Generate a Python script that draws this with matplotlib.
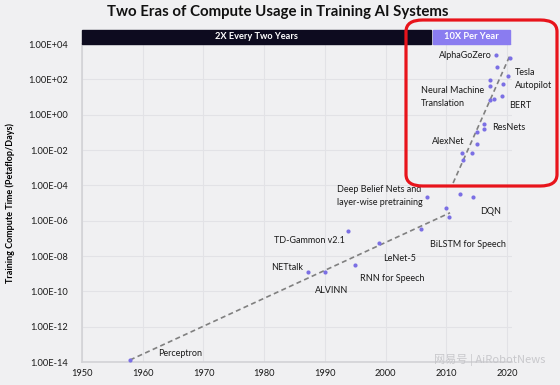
import numpy as np
import matplotlib
matplotlib.use("Agg")
import matplotlib.pyplot as plt
import matplotlib.transforms as mtransforms
from matplotlib.patches import Rectangle, FancyBboxPatch
from matplotlib.ticker import FuncFormatter, FixedLocator

plt.rcParams['font.family'] = ['Lato', 'DejaVu Sans']

# data (year, petaflop/s-days)
early_years = [1957.9, 1987.2, 1990.0, 1993.8, 1995.0, 1998.9, 2005.8,
               2006.8, 2010.0, 2010.5, 2012.3, 2014.3]
early_compute = [1.3e-14, 1.2e-09, 1.2e-09, 2.5e-07, 3.2e-09, 5.6e-08,
                 3.5e-07, 2.3e-05, 5.0e-06, 1.6e-06, 3.4e-05, 2.3e-05]

modern_years = [2012.6, 2012.8, 2014.2, 2015.0, 2015.0, 2016.2, 2016.2,
                2017.1, 2017.9, 2019.1, 2017.1, 2017.2, 2019.4, 2018.3,
                2020.2, 2018.2, 2020.4]
modern_compute = [7.2e-03, 2.6e-03, 7.2e-03, 2.1e-02, 1.1e-01, 1.5e-01,
                  3.0e-01, 6.6e+00, 7.6e+00, 1.1e+01, 9.3e+01, 4.0e+01,
                  5.4e+01, 4.7e+02, 1.6e+02, 2.3e+03, 1.7e+03]

trend1_years = [1957.9, 2010.6]
trend1_compute = [1.3e-14, 2.8e-06]
trend2_years = [2011.1, 2020.5]
trend2_compute = [1.35e-04, 2.4e+03]

labels = ["AlphaGoZero", "Tesla", "Autopilot", "Neural Machine\nTranslation",
          "BERT", "ResNets", "AlexNet", "Deep Belief Nets and\nlayer-wise pretraining",
          "DQN", "TD-Gammon v2.1", "BiLSTM for Speech", "LeNet-5", "NETtalk",
          "RNN for Speech", "ALVINN", "Perceptron"]
label_years = [2017.5, 2021.3, 2021.3, 2005.85, 2020.3, 2017.5, 2007.7,
               1992.0, 2015.6, 1981.6, 2007.3, 1999.6, 1981.1, 1995.8,
               1988.4, 1962.5]
label_compute = [2.1e+03, 2.3e+02, 4.2e+01, 1.0e+01, 3.1e+00, 1.8e-01,
                 3.2e-02, 2.6e-05, 3.5e-06, 7.1e-08, 4.2e-08, 6.8e-09,
                 2.1e-09, 5.0e-10, 1.05e-10, 2.9e-14]

bg = '#f0f0f2'
dot = '#7b6fe4'

fig = plt.figure(figsize=(5.6, 3.85), dpi=100, facecolor=bg)
ax = fig.add_axes([82/560, 23/385, 430/560, 318/385], facecolor=bg)

ax.set_yscale('log')
ax.set_xlim(1950, 2020.8)
ax.set_ylim(1e-14, 1e4)

ax.plot(trend1_years, trend1_compute, color='#808080', lw=1.2, ls=(0, (3, 2)), zorder=2)
ax.plot(trend2_years, trend2_compute, color='#808080', lw=1.2, ls=(0, (3, 2)), zorder=2)
ax.scatter(early_years, early_compute, s=9, color=dot, zorder=3, linewidths=0)
ax.scatter(modern_years, modern_compute, s=9, color=dot, zorder=3, linewidths=0)

for txt, x, y in zip(labels, label_years, label_compute):
    ha = 'right' if txt == 'AlphaGoZero' else 'left'
    ax.text(x, y, txt, fontsize=6.5, ha=ha, va='center', color='#1a1a1a',
            linespacing=1.55, clip_on=False, zorder=4)

ax.yaxis.set_major_locator(FixedLocator([10.0**k for k in range(-14, 5, 2)]))
ax.yaxis.set_minor_locator(FixedLocator([]))
ax.yaxis.set_major_formatter(FuncFormatter(lambda v, p: f"{v:.2E}"))
ax.set_xticks(range(1950, 2021, 10))
ax.tick_params(length=0, labelsize=6.7, colors='#1a1a1a')
ax.tick_params(axis='y', pad=10)
ax.tick_params(axis='x', pad=5)
ax.grid(True, color='#e2e2e6', lw=0.8)
ax.set_axisbelow(True)
for s in ['top', 'right']:
    ax.spines[s].set_visible(False)
for s in ['left', 'bottom']:
    ax.spines[s].set_color('#d2d2d6')
    ax.spines[s].set_linewidth(1.2)

ax.set_ylabel('Training Compute Time (Petaflop/Days)', fontsize=6.5,
              fontweight='bold')
ax.yaxis.set_label_coords(-0.155, 0.5)

# era bars above the plot
trans = mtransforms.blended_transform_factory(ax.transData, ax.transAxes)
bar_h = 14/318
ax.add_patch(Rectangle((1950, 1.0), 2007.5 - 1950, bar_h, transform=trans,
                       color='#0d0b1f', clip_on=False, zorder=5))
ax.add_patch(Rectangle((2007.8, 1.0), 2020.5 - 2007.8, bar_h, transform=trans,
                       color='#8a7cf0', clip_on=False, zorder=5))
ax.text((1950 + 2007.5) / 2, 1.0 + bar_h / 2, '2X Every Two Years', transform=trans,
        color='white', fontsize=6.7, fontweight='bold', ha='center', va='center', zorder=6)
ax.text((2007.8 + 2020.5) / 2, 1.0 + bar_h / 2, '10X Per Year', transform=trans,
        color='white', fontsize=6.7, fontweight='bold', ha='center', va='center', zorder=6)

fig.text(278/560, 1 - 12/385, 'Two Eras of Compute Usage in Training AI Systems',
         fontsize=10.8, fontweight='bold', ha='center', va='center', color='#111111')

# red highlight box
box = FancyBboxPatch((406/560, 199/385), 151/560, 166/385,
                     boxstyle='round,pad=0,rounding_size=0.03',
                     transform=fig.transFigure, fill=False, edgecolor='#e8141c',
                     lw=2.3, zorder=10)
fig.patches.append(box)

# watermark
fig.text(545/560, 1 - 360/385, '网易号 | AiRobotNews', fontsize=8,
         family=['Noto Sans CJK SC', 'DejaVu Sans'], color='#c4c4c8',
         ha='right', va='center', alpha=0.9, zorder=11)

fig.savefig('out.png', dpi=100, facecolor=bg)
